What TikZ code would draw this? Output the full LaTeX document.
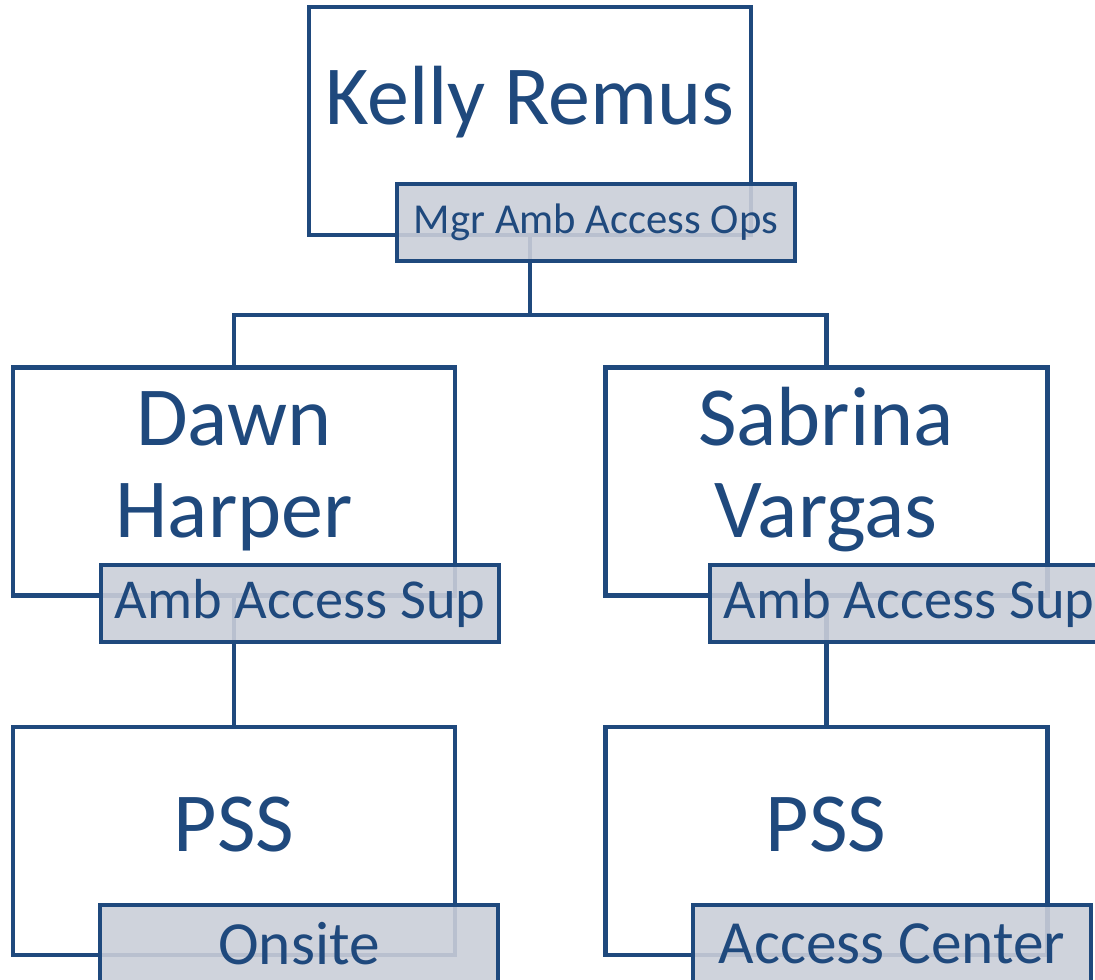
\documentclass[tikz,border=0pt]{standalone}
\usepackage{fontspec}
\setmainfont{Carlito}
\usetikzlibrary{positioning}
\definecolor{bleuorg}{RGB}{31,73,125}
\definecolor{grisetiq}{RGB}{202,206,216}

\begin{document}
\begin{tikzpicture}[x=0.75pt,y=-0.75pt]
\tikzset{
  boite/.style={draw=bleuorg, line width=3.4pt, minimum width=331.5pt, minimum height=171pt, inner sep=0pt},
  etiq/.style={draw=bleuorg, line width=3.6pt, fill=grisetiq, fill opacity=0.9, draw opacity=1, text opacity=1,
    text=bleuorg, minimum width=298.5pt, minimum height=57.75pt, inner sep=0pt, anchor=center},
  nom/.style={text=bleuorg, font=\fontsize{63}{69}\selectfont, align=center, anchor=base},
  titre/.style={font=\fontsize{42.3}{48}\selectfont},
  lien/.style={draw=bleuorg, line width=3.4pt},
}
  \useasboundingbox (0,0) rectangle (1095,980);
  \clip (0,0) rectangle (1095,980);

  % les cases
  \node[boite] (kelly) at (530,121) {};
  \node[boite] (dawn) at (234,481.5) {};
  \node[boite] (sabrina) at (826.5,481.5) {};
  \node[boite] (pssA) at (234,841) {};
  \node[boite] (pssB) at (826.5,841) {};

  % les noms (base = derniere ligne)
  \node[nom] (nkelly) at (530,125) {Kelly Remus};
  \node[nom] (ndawn) at (234,537) {Dawn\\Harper};
  \node[nom] (nsabrina) at (826,537) {Sabrina\\Vargas};
  \node[nom] (npssA) at (234,851) {PSS};
  \node[nom] (npssB) at (826,851) {PSS};

  % les liens
  \coordinate (bus) at (530,315);
  \draw[lien] (kelly.south) -- (kelly.south |- bus) -| (dawn.north);
  \draw[lien] (kelly.south |- bus) -| (sabrina.north);
  \draw[lien] (dawn.south) -- (pssA.north);
  \draw[lien] (sabrina.south) -- (pssB.north);

  % les etiquettes par-dessus
  \node[etiq, font=\fontsize{32}{36}\selectfont] (tkelly) at (596,222.5) {Mgr Amb Access Ops};
  \node[etiq, titre] (tdawn) at (300,603.5) {Amb Access Sup};
  \node[etiq, titre] (tsabrina) at (909,603.5) {Amb Access Sup};
  \node[etiq, font=\fontsize{46}{52}\selectfont] (tpssA) at (299,943.5) {Onsite};
  \node[etiq, font=\fontsize{46}{52}\selectfont] (tpssB) at (892,943.5) {Access Center};
\end{tikzpicture}
\end{document}
